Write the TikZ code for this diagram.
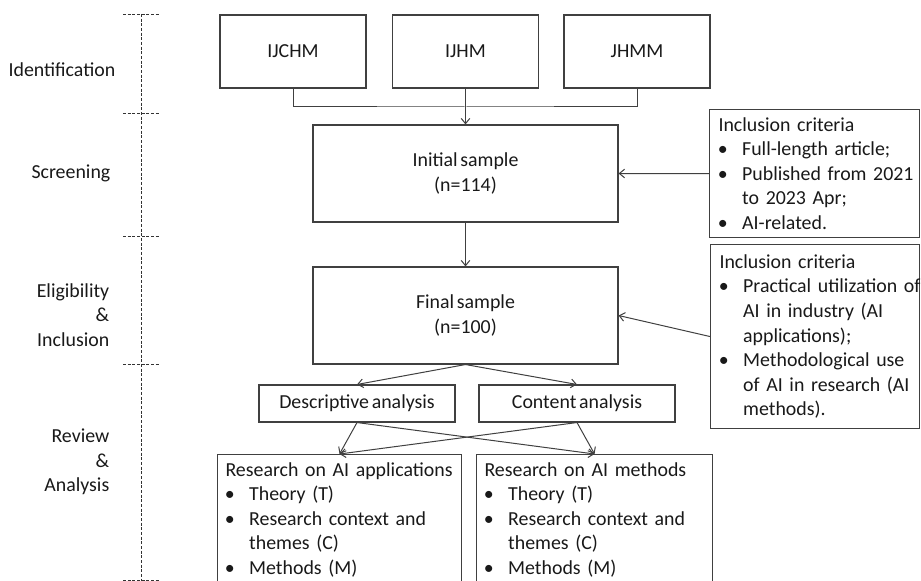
\documentclass[tikz,border=0pt]{standalone}
\usepackage{fontspec}
\setmainfont{Carlito}[WordSpace=0.6]
\usetikzlibrary{arrows.meta}

\newcommand{\bitem}[1]{\makebox[17.75pt][l]{\hspace{-0.5pt}\textbullet}\mbox{#1}}
\newcommand{\bcont}[1]{\hspace*{17.75pt}\mbox{#1}}

\begin{document}
\begin{tikzpicture}[x=0.75pt, y=-0.75pt,
    every node/.style={font=\fontsize{14.9}{18.4}\selectfont, text=black!90},
    box/.style={draw=black!75, line width=0.8pt},
    journal/.style={box, minimum width=109.5pt, minimum height=54.75pt},
    sample/.style={box, align=center, minimum width=228.75pt, minimum height=72.75pt},
    analysis/.style={box, minimum width=147pt, minimum height=27.75pt},
    criteria/.style={box, anchor=north west, align=left, inner xsep=6.75pt, inner ysep=2pt},
    result/.style={box, anchor=north west, align=left, inner xsep=6pt, inner ysep=6pt},
    phase/.style={align=right, anchor=east},
    timeline/.style={draw=black!80, line width=0.7pt, dash pattern=on 2.2pt off 1.3pt},
    flow/.style={draw=black!75, line width=0.75pt},
    >={Straight Barb[length=4pt,width=6.5pt]}]
            \useasboundingbox (0,0) rectangle (921,581);
            \clip (0,0) rectangle (921,581);

            % Phases on the left
            \node[phase] (ident) at (120,70) {Identification};
            \node[phase] (screen) at (115,173) {Screening};
            \node[phase] (elig) at (114,315) {Eligibility\\\&\\Inclusion};
            \node[phase] (review) at (114,462) {Review\\\&\\Analysis};
            \draw[timeline] (141,14) -- (141,581);
            \foreach \y in {14,113,236,364,580}
                \draw[timeline] (123,\y) -- (159,\y);

            % Journals
            \node[journal] (ijchm) at (293,51.5) {IJCHM};
            \node[journal] (ijhm) at (465.5,51.5) {IJHM};
            \node[journal] (jhmm) at (637,51.5) {JHMM};
            \coordinate (merge) at (465.5,107);

            % Samples
            \node[sample] (initial) at (465.5,173.5) {Initial sample\\(n=114)};
            \node[sample] (final) at (465.5,315.5) {Final sample\\(n=100)};

            % Inclusion criteria
            \node[criteria, text width=144pt, minimum height=96pt] (crit1) at (709,109)
                {Inclusion criteria\\
                 \bitem{Full-length article;}\\
                 \bitem{Published from 2021}\\
                 \bcont{to 2023 Apr;}\\
                 \bitem{AI-related.}};
            \node[criteria, text width=143.25pt, minimum height=138pt] (crit2) at (710,244)
                {Inclusion criteria\\
                 \bitem{Practical utilization of}\\
                 \bcont{AI in industry (AI}\\
                 \bcont{applications);}\\
                 \bitem{Methodological use}\\
                 \bcont{of AI in research (AI}\\
                 \bcont{methods).}};

            % Analyses
            \node[analysis] (desc) at (357,403.5) {Descriptive analysis};
            \node[analysis] (content) at (577,403.5) {Content analysis};

            % Research streams
            \node[result, text width=171pt] (resapp) at (217,454)
                {\mbox{Research on AI applications}\\
                 \bitem{Theory (T)}\\
                 \bitem{Research context and}\\
                 \bcont{themes (C)}\\
                 \bitem{Methods (M)}\rule[-20pt]{0pt}{0pt}};
            \node[result, text width=165pt] (resmeth) at (476,454)
                {\mbox{Research on AI methods}\\
                 \bitem{Theory (T)}\\
                 \bitem{Research context and}\\
                 \bcont{themes (C)}\\
                 \bitem{Methods (M)}\rule[-20pt]{0pt}{0pt}};

            % Edges
            \draw[flow] (ijchm.south) |- (merge) -| (jhmm.south);
            \draw[flow,->] (ijhm.south) -- (initial.north);
            \draw[flow,->] (initial.south) -- (final.north);
            \draw[flow,->] (crit1.west) -- (initial.east);
            \draw[flow,->] (crit2.west) -- (final.east);
            \draw[flow,->] (final.south) -- (desc.north);
            \draw[flow,->] (final.south) -- (content.north);
            \draw[flow,->] (desc.south) -- (resapp.north);
            \draw[flow,->] (desc.south) -- (resmeth.north);
            \draw[flow,->] (content.south) -- (resapp.north);
            \draw[flow,->] (content.south) -- (resmeth.north);
          \end{tikzpicture}
\end{document}
